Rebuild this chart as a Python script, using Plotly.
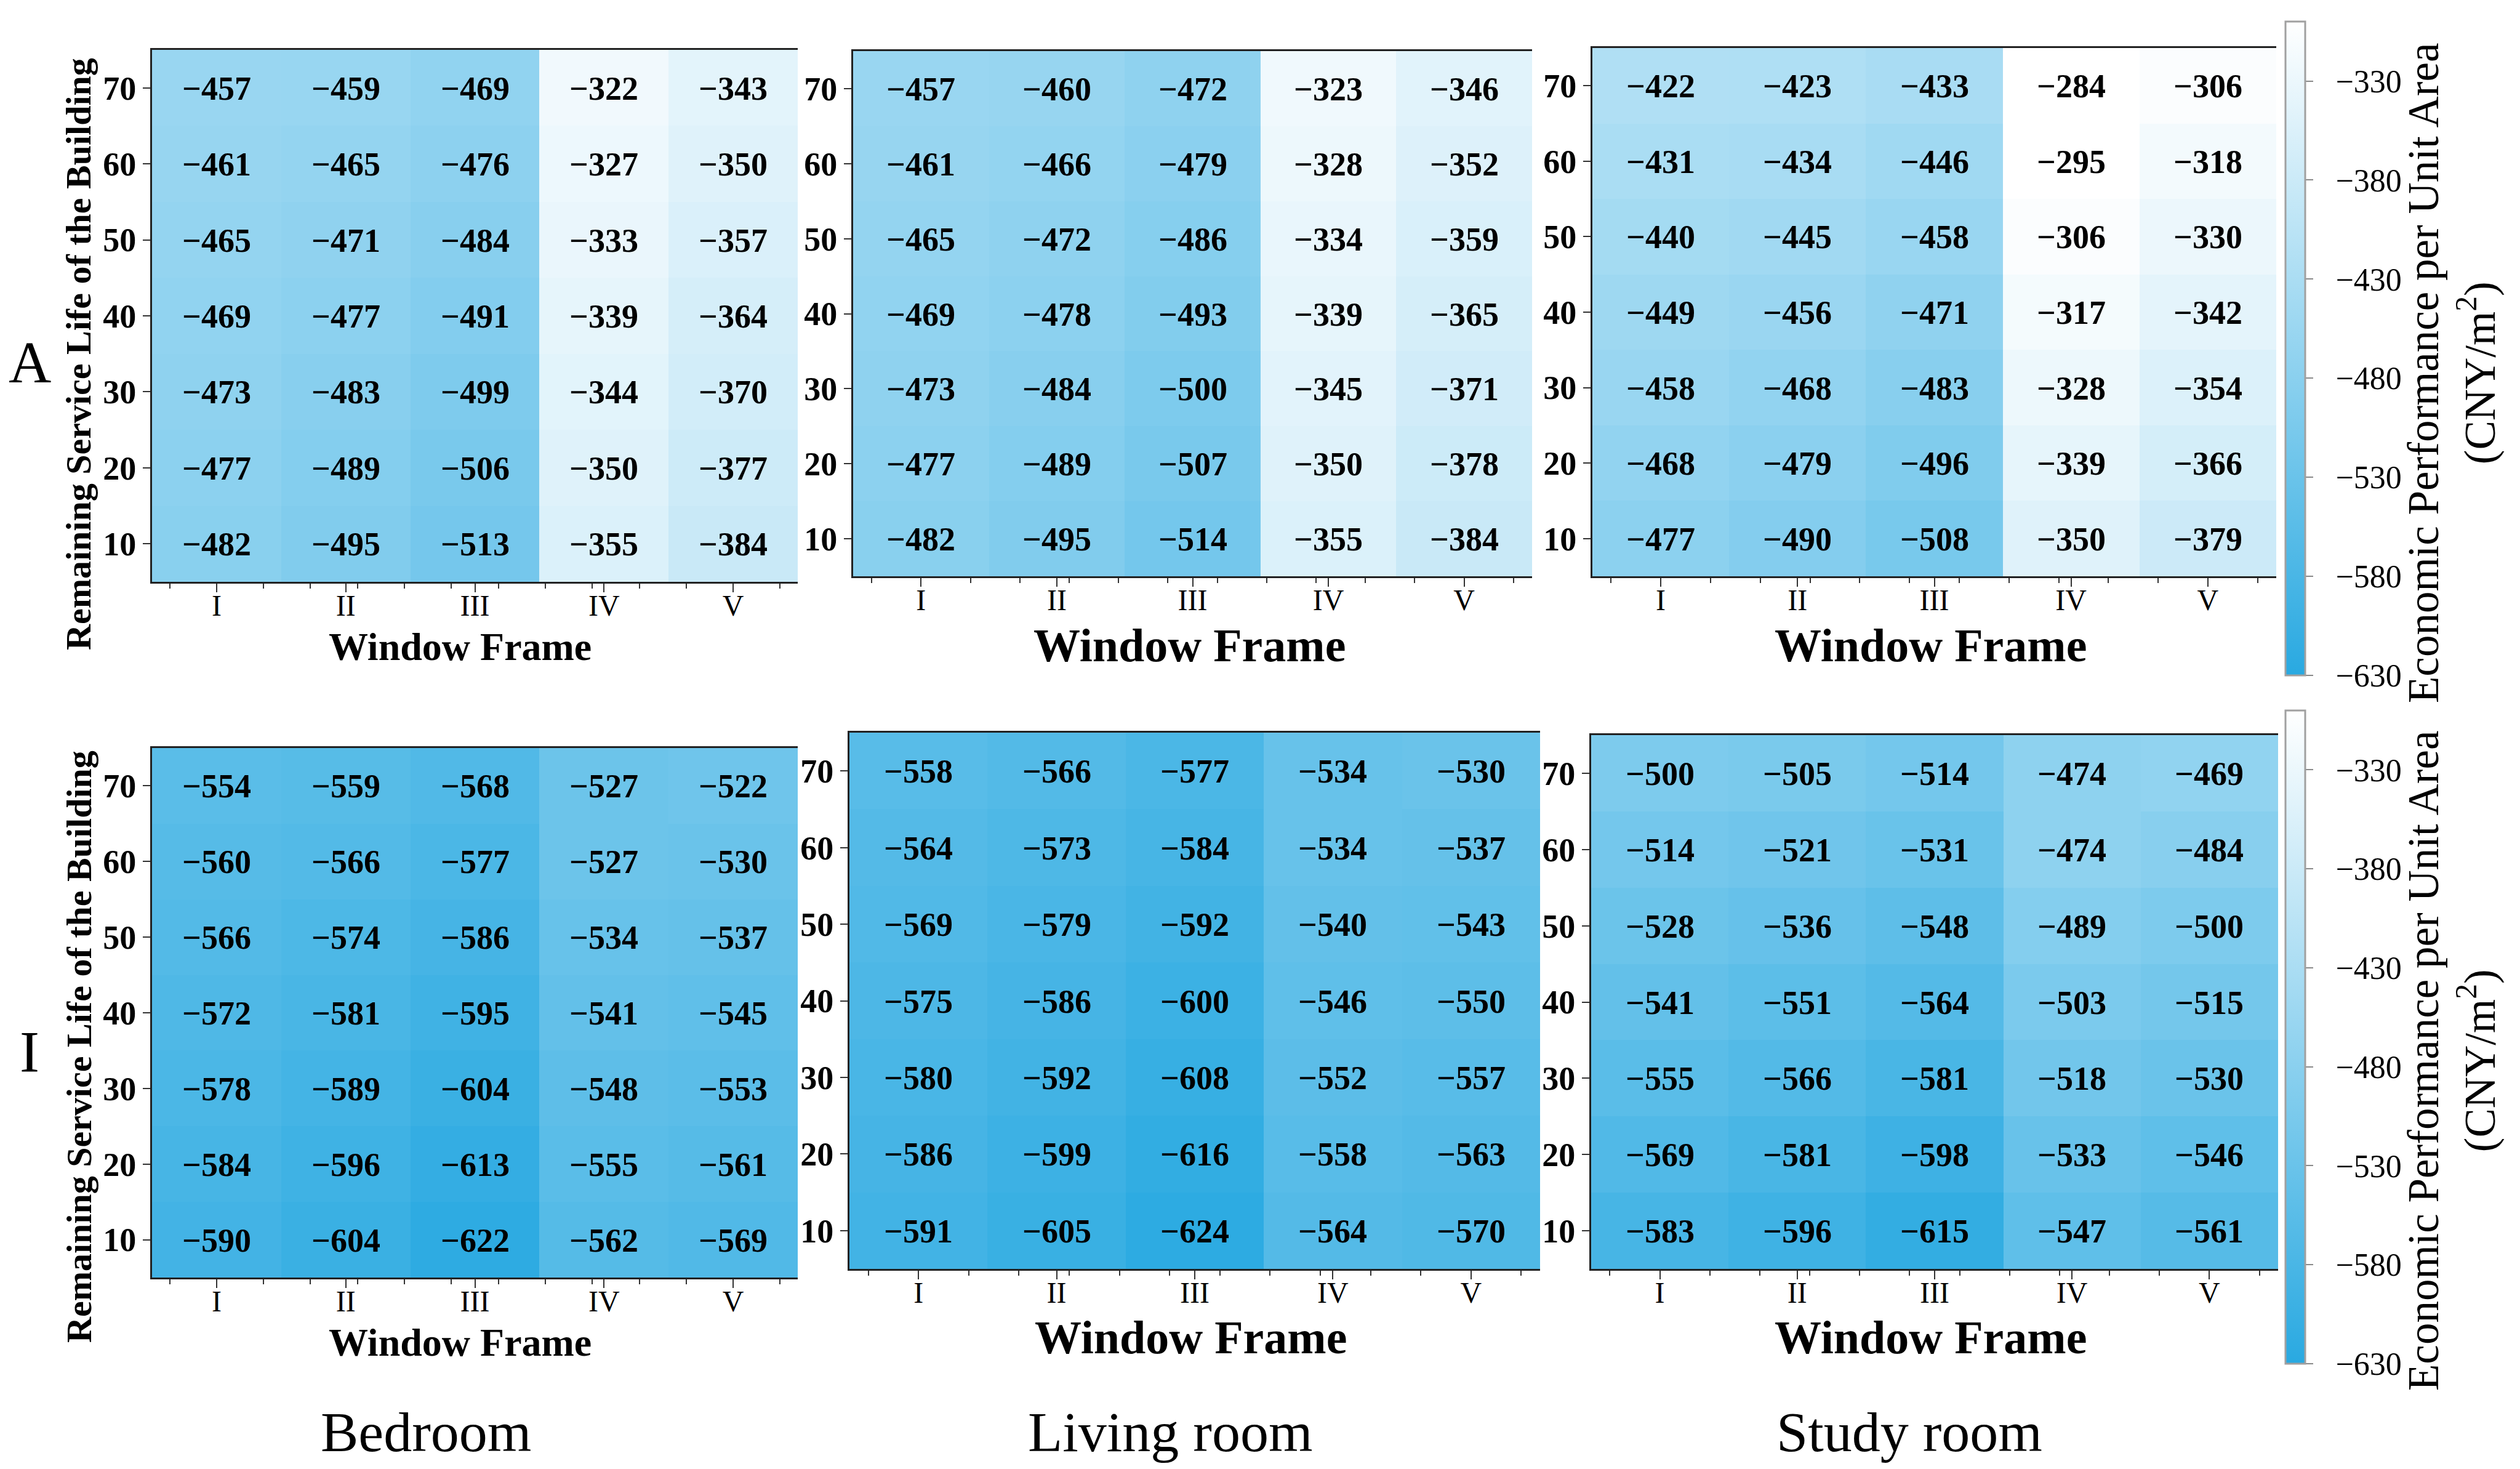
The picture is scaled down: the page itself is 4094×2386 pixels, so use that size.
"""Heatmaps of economic performance per unit area by window frame and remaining service life."""

import plotly.graph_objects as go

W, H = 4094, 2386
SERIF = "Liberation Serif"

window_frames = ["I", "II", "III", "IV", "V"]
service_life = [70, 60, 50, 40, 30, 20, 10]
rooms = ["Bedroom", "Living room", "Study room"]
row_labels = ["A", "I"]
cbar_ticks = [-330, -380, -430, -480, -530, -580, -630]
cbar_title = "Economic Performance per Unit Area<br>(CNY/m<sup>2</sup>)"

# rows ordered 70 -> 10, columns I -> V
bedroom_a = [
    [-457, -459, -469, -322, -343],
    [-461, -465, -476, -327, -350],
    [-465, -471, -484, -333, -357],
    [-469, -477, -491, -339, -364],
    [-473, -483, -499, -344, -370],
    [-477, -489, -506, -350, -377],
    [-482, -495, -513, -355, -384],
]
living_a = [
    [-457, -460, -472, -323, -346],
    [-461, -466, -479, -328, -352],
    [-465, -472, -486, -334, -359],
    [-469, -478, -493, -339, -365],
    [-473, -484, -500, -345, -371],
    [-477, -489, -507, -350, -378],
    [-482, -495, -514, -355, -384],
]
study_a = [
    [-422, -423, -433, -284, -306],
    [-431, -434, -446, -295, -318],
    [-440, -445, -458, -306, -330],
    [-449, -456, -471, -317, -342],
    [-458, -468, -483, -328, -354],
    [-468, -479, -496, -339, -366],
    [-477, -490, -508, -350, -379],
]
bedroom_i = [
    [-554, -559, -568, -527, -522],
    [-560, -566, -577, -527, -530],
    [-566, -574, -586, -534, -537],
    [-572, -581, -595, -541, -545],
    [-578, -589, -604, -548, -553],
    [-584, -596, -613, -555, -561],
    [-590, -604, -622, -562, -569],
]
living_i = [
    [-558, -566, -577, -534, -530],
    [-564, -573, -584, -534, -537],
    [-569, -579, -592, -540, -543],
    [-575, -586, -600, -546, -550],
    [-580, -592, -608, -552, -557],
    [-586, -599, -616, -558, -563],
    [-591, -605, -624, -564, -570],
]
study_i = [
    [-500, -505, -514, -474, -469],
    [-514, -521, -531, -474, -484],
    [-528, -536, -548, -489, -500],
    [-541, -551, -564, -503, -515],
    [-555, -566, -581, -518, -530],
    [-569, -581, -598, -533, -546],
    [-583, -596, -615, -547, -561],
]

# data, pixel box (x0, x1, top, bottom), "Window Frame" (centre x, centre y, size), colour axis
panels = [
    (bedroom_a, (239, 1288, 73, 937), (739, 1042, 64), "coloraxis"),
    (living_a, (1378, 2481, 75, 928), (1924, 1040, 76), "coloraxis"),
    (study_a, (2579, 3690, 70, 928), (3128, 1040, 76), "coloraxis"),
    (bedroom_i, (239, 1288, 1207, 2067), (739, 2172, 64), "coloraxis2"),
    (living_i, (1372, 2494, 1182, 2053), (1926, 2164, 76), "coloraxis2"),
    (study_i, (2577, 3693, 1186, 2053), (3128, 2164, 76), "coloraxis2"),
]

colorscale = [[0, "#29A9E1"], [1, "#FFFFFF"]]


def colorbar(top, length):
    return dict(
        x=3705 / W, xanchor="left", y=1 - top / H, yanchor="top",
        len=length / H, lenmode="fraction", thickness=32, thicknessmode="pixels",
        xpad=0, ypad=0, outlinecolor="#a0a0a0", outlinewidth=3,
        tickmode="array", tickvals=cbar_ticks,
        ticktext=[f"\u2002\u2212{abs(v)}" for v in cbar_ticks],
        ticks="outside", ticklen=12, tickcolor="#8a8a8a", tickwidth=2,
        tickfont=dict(family=SERIF, size=52, color="black"),
    )


def paper(px, py):
    return px / W, 1 - py / H


fig = go.Figure()
layout = {}
annotations = []

for i, (z, (x0, x1, top, bottom), (tx, ty, tsize), cax) in enumerate(panels, start=1):
    sfx = "" if i == 1 else str(i)
    text = [[f"\u2212{abs(v)}" for v in row] for row in z]
    fig.add_trace(
        go.Heatmap(
            z=z, x=list(range(len(window_frames))), y=service_life,
            text=text, texttemplate="%{text}",
            textfont=dict(family=SERIF, size=54, color="black", weight="bold"),
            coloraxis=cax, xaxis=f"x{sfx}", yaxis=f"y{sfx}",
            hovertemplate="%{y}, %{x}: %{z}<extra></extra>",
        )
    )
    layout[f"xaxis{sfx}"] = dict(
        domain=[x0 / W, x1 / W], anchor=f"y{sfx}",
        range=[-0.5, 4.5], tickmode="array",
        tickvals=list(range(len(window_frames))), ticktext=window_frames,
        ticks="outside", ticklen=14, tickwidth=2, tickcolor="#333",
        ticklabelstandoff=-20,
        minor=dict(tickmode="linear", tick0=0, dtick=4 / 11, ticks="outside",
                   ticklen=8, tickwidth=2, tickcolor="#333"),
        showline=True, mirror=True, linecolor="#222", linewidth=3,
        showgrid=False, zeroline=False,
        tickfont=dict(family=SERIF, size=48, color="black"),
    )
    layout[f"yaxis{sfx}"] = dict(
        domain=[1 - bottom / H, 1 - top / H], anchor=f"x{sfx}",
        range=[5, 75], tickmode="array", tickvals=service_life,
        ticks="outside", ticklen=12, tickwidth=2, tickcolor="#333",
        showline=True, mirror=False, linecolor="#222", linewidth=3,
        showgrid=False, zeroline=False,
        tickfont=dict(family=SERIF, size=54, color="black", weight="bold"),
    )
    ax, ay = paper(tx, ty)
    annotations.append(dict(
        text="Window Frame", x=ax, y=ay, xref="paper", yref="paper",
        showarrow=False, xanchor="center", yanchor="middle",
        font=dict(family=SERIF, size=tsize, color="black", weight="bold"),
    ))

# y-axis titles on the left column
for cy in [567, 1692]:
    ax, ay = paper(120, cy)
    annotations.append(dict(
        text="Remaining Service Life of the Building", x=ax, y=ay,
        xref="paper", yref="paper", showarrow=False, textangle=-90,
        xanchor="center", yanchor="middle",
        font=dict(family=SERIF, size=58, color="black", weight="bold"),
    ))

# colour bar titles
for cy in [598, 1715]:
    ax, ay = paper(3975, cy)
    annotations.append(dict(
        text=cbar_title, x=ax, y=ay, xref="paper", yref="paper",
        showarrow=False, textangle=-90, xanchor="center", yanchor="middle",
        font=dict(family=SERIF, size=71, color="black"),
    ))

for label, cx in zip(rooms, [684, 1893, 3094]):
    ax, ay = paper(cx, 2318)
    annotations.append(dict(
        text=label, x=ax, y=ay, xref="paper", yref="paper",
        showarrow=False, xanchor="center", yanchor="middle",
        font=dict(family=SERIF, size=92, color="black"),
    ))
for label, cy in zip(row_labels, [580, 1700]):
    ax, ay = paper(40, cy)
    annotations.append(dict(
        text=label, x=ax, y=ay, xref="paper", yref="paper",
        showarrow=False, xanchor="center", yanchor="middle",
        font=dict(family=SERIF, size=96, color="black"),
    ))

fig.update_layout(
    **layout,
    coloraxis=dict(colorscale=colorscale, cmin=-630, cmax=-300, colorbar=colorbar(27, 1062)),
    coloraxis2=dict(colorscale=colorscale, cmin=-630, cmax=-300, colorbar=colorbar(1146, 1061)),
    annotations=annotations,
    width=W, height=H,
    margin=dict(l=0, r=0, t=0, b=0, autoexpand=False),
    paper_bgcolor="white", plot_bgcolor="white",
    font=dict(family=SERIF, color="black"),
    showlegend=False,
)

fig.write_html("out.html")
